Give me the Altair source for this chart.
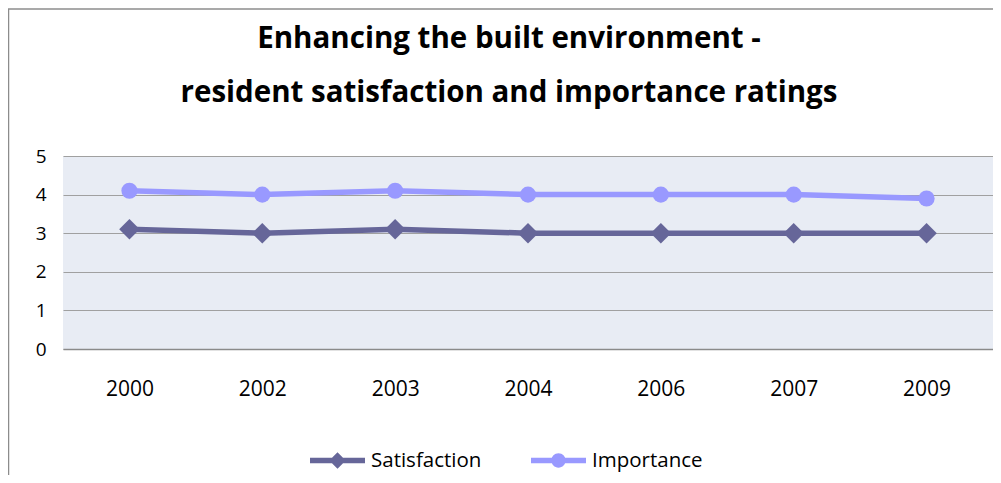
import altair as alt
import pandas as pd

years = ["2000", "2002", "2003", "2004", "2006", "2007", "2009"]
satisfaction = [3.1, 3.0, 3.1, 3.0, 3.0, 3.0, 3.0]
importance = [4.1, 4.0, 4.1, 4.0, 4.0, 4.0, 3.9]
series_names = ["Satisfaction", "Importance"]
series_colors = ["#666699", "#9999FF"]
y_ticks = [0, 1, 2, 3, 4, 5]

rows = []
for yr, s, i in zip(years, satisfaction, importance):
    rows.append({"year": yr, "series": "Satisfaction", "value": s})
    rows.append({"year": yr, "series": "Importance", "value": i})
df = pd.DataFrame(rows)

FONT = "Open Sans"

x_enc = alt.X("year:N", sort=years, scale=alt.Scale(type="point", padding=0.5),
              axis=alt.Axis(title=None, labelAngle=0, ticks=False, grid=False,
                            domainColor="#8a8a8a", domainWidth=1.5,
                            labelFontSize=21, labelFont=FONT, labelColor="#000000",
                            labelPadding=29))
y_enc = alt.Y("value:Q", scale=alt.Scale(domain=[0, 5], nice=False),
              axis=alt.Axis(title=None, values=y_ticks, ticks=False, domain=False,
                            grid=True, gridColor="#a0a0a0", gridWidth=1,
                            labelFontSize=19, labelFont=FONT, labelColor="#000000",
                            labelPadding=17))
color_scale = alt.Scale(domain=series_names, range=series_colors)

base = alt.Chart(df)

lines = base.mark_line(strokeWidth=5.5).encode(
    x=x_enc, y=y_enc,
    color=alt.Color("series:N", scale=color_scale, sort=series_names),
)

pts_sat = base.transform_filter(alt.datum.series == "Satisfaction").mark_point(
    filled=True, shape="diamond", size=420, opacity=1
).encode(x=x_enc, y=y_enc, color=alt.Color("series:N", scale=color_scale, sort=series_names))

pts_imp = base.transform_filter(alt.datum.series == "Importance").mark_point(
    filled=True, shape="circle", size=260, opacity=1
).encode(x=x_enc, y=y_enc, color=alt.Color("series:N", scale=color_scale, sort=series_names))

path_sat = "M-1,-0.1L1,-0.1L1,0.1L-1,0.1Z M0,-0.3L0.3,0L0,0.3L-0.3,0Z"
path_imp = "M-1,-0.1L1,-0.1L1,0.1L-1,0.1Z M0.26,0A0.26,0.26 0 1,1 -0.26,0A0.26,0.26 0 1,1 0.26,0Z"

legend_layer = base.mark_point(filled=True, fillOpacity=0, strokeOpacity=0).encode(
    x=x_enc, y=y_enc,
    color=alt.Color("series:N", scale=color_scale, sort=series_names,
                    legend=alt.Legend(title=None, orient="none", direction="horizontal",
                                      legendX=247, legendY=277,
                                      symbolSize=3025, symbolStrokeWidth=0,
                                      symbolOpacity=1,
                                      labelFontSize=20.5, labelFont=FONT, labelColor="#000000",
                                      labelOffset=6, columnPadding=49)),
    shape=alt.Shape("series:N", scale=alt.Scale(domain=series_names, range=[path_sat, path_imp]),
                    sort=series_names),
)

frame_left = alt.Chart(alt.Data(values=[{}])).mark_rule(color="#8c8c8c", strokeWidth=1.5).encode(
    x=alt.value(-54.5), y=alt.value(-147), y2=alt.value(320))
frame_top = alt.Chart(alt.Data(values=[{}])).mark_rule(color="#8c8c8c", strokeWidth=1.5).encode(
    x=alt.value(-55), x2=alt.value(930), y=alt.value(-147))

chart = alt.layer(frame_left, frame_top, lines, pts_sat, pts_imp, legend_layer).properties(
    width=930, height=193,
    title=alt.TitleParams(
        text=["Enhancing the built environment -", "resident satisfaction and importance ratings"],
        font=FONT, fontSize=29.5, fontWeight="bold", color="#000000",
        lineHeight=54, anchor="middle", dx=-19, offset=-122.75, baseline="alphabetic"),
    autosize=alt.AutoSizeParams(type="none"),
    padding={"left": 55, "top": 148, "right": 0, "bottom": 126},
    background="#ffffff",
).configure_view(fill="#E8ECF4", stroke=None)

chart.save("out.html", embed_options={"renderer": "svg", "actions": False})
